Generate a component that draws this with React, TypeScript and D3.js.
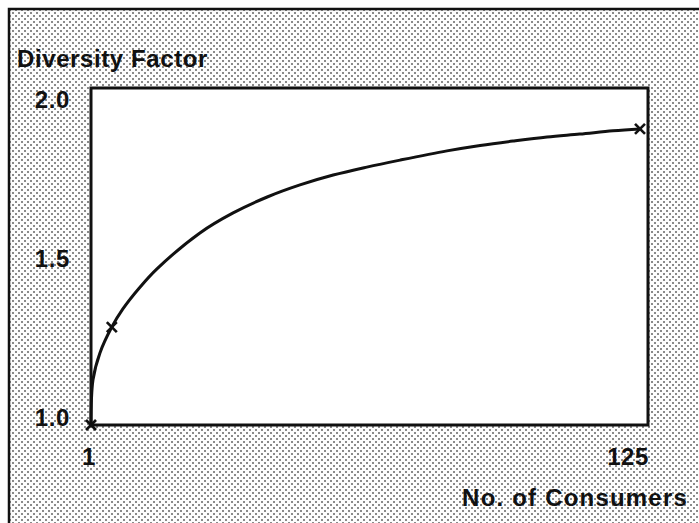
import React from "react";
import * as d3 from "d3";

const consumers = [1, 1.45, 3.0, 5.7, 8.2, 12.1, 15.9, 25.6, 33.1, 40.8, 48.2, 55.7, 63.3, 70.8, 81.4, 88.9, 96.3, 104.0, 111.4, 118.9, 125];
const diversity = [1.0, 1.142, 1.226, 1.308, 1.365, 1.434, 1.491, 1.604, 1.667, 1.717, 1.755, 1.786, 1.811, 1.833, 1.862, 1.879, 1.893, 1.906, 1.915, 1.925, 1.931];
const markedConsumers = [1, 5.7, 125];
const markedDiversity = [1.0, 1.308, 1.931];
const yTicks = [1.0, 1.5, 2.0];
const xTicks = [1, 125];
const yTitle = "Diversity Factor";
const xTitle = "No. of Consumers";

const W = 699;
const H = 523;
const plot = { left: 91, top: 88, right: 648, bottom: 425 };

export default function App() {
  const x = d3.scaleLinear().domain([1, 125]).range([91, 640]);
  const y = d3.scaleLinear().domain([1, 2]).range([425, 107]);
  const data = consumers.map((c, i) => [c, diversity[i]] as [number, number]);
  const line = d3
    .line<[number, number]>()
    .x((d) => x(d[0]))
    .y((d) => y(d[1]))
    .curve(d3.curveCatmullRom.alpha(0.5));
  const font = "'Liberation Sans', Arial, Helvetica, sans-serif";
  const m = 5;
  return (
    <svg
      width={W}
      height={H}
      style={{ position: "absolute", left: 0, top: 0, background: "#fff" }}
    >
      <defs>
        <pattern id="stip" width={6} height={6} patternUnits="userSpaceOnUse">
          <rect width={6} height={6} fill="#fdfdfd" />
          <rect x={0} y={0} width={2} height={2} fill="#8a8a8a" />
          <rect x={3} y={3} width={2} height={2} fill="#8a8a8a" />
        </pattern>
      </defs>
      <rect x={9} y={9} width={W + 10} height={H + 10} fill="url(#stip)" stroke="#111" strokeWidth={2.5} />
      <rect
        x={plot.left}
        y={plot.top}
        width={plot.right - plot.left}
        height={plot.bottom - plot.top}
        fill="#fff"
        stroke="#111"
        strokeWidth={3}
      />
      <path d={line(data) || ""} fill="none" stroke="#111" strokeWidth={3} />
      {markedConsumers.map((c, i) => {
        const cx = x(c);
        const cy = y(markedDiversity[i]);
        return (
          <g key={i} stroke="#111" strokeWidth={2.6}>
            <line x1={cx - m} y1={cy - m} x2={cx + m} y2={cy + m} />
            <line x1={cx - m} y1={cy + m} x2={cx + m} y2={cy - m} />
          </g>
        );
      })}
      <g fontFamily={font} fontSize={24} fontWeight="bold" fill="#111" letterSpacing={0.6}>
        <text x={17} y={67}>{yTitle}</text>
        {yTicks.map((t) => (
          <text key={t} x={70} y={y(t) + 1} textAnchor="end">
            {d3.format(".1f")(t)}
          </text>
        ))}
        {xTicks.map((t, i) => (
          <text key={t} x={i === 0 ? 89 : 649} y={465} textAnchor={i === 0 ? "middle" : "end"}>
            {t}
          </text>
        ))}
        <text x={688} y={506} textAnchor="end" letterSpacing={1.2}>
          {xTitle}
        </text>
      </g>
    </svg>
  );
}
